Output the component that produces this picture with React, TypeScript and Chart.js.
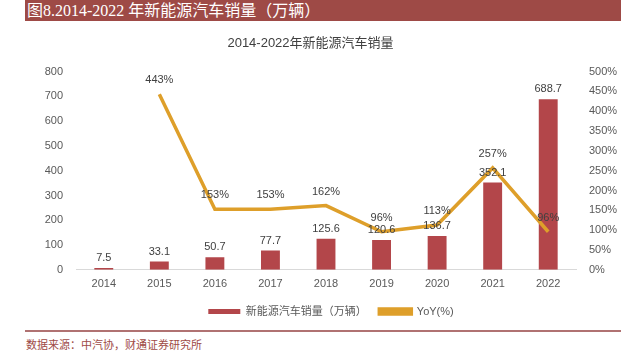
import React, { useEffect, useRef } from "react";
import { Chart, registerables } from "chart.js";

Chart.register(...registerables);

const years = ["2014", "2015", "2016", "2017", "2018", "2019", "2020", "2021", "2022"];
const sales = [7.5, 33.1, 50.7, 77.7, 125.6, 120.6, 136.7, 352.1, 688.7];
const yoy = [null, 443, 153, 153, 162, 96, 113, 257, 96];
const leftTicks = [0, 100, 200, 300, 400, 500, 600, 700, 800];
const rightTicks = [0, 50, 100, 150, 200, 250, 300, 350, 400, 450, 500];

const BAR = "#B3464A";
const LINE = "#DE9F2A";
const TXT = "#595959";
const SANS = "'Liberation Sans', Arial, 'Noto Sans CJK SC', sans-serif";

const labelPlugin = {
  id: "valueLabels",
  afterDatasetsDraw(chart: any) {
    const ctx = chart.ctx;
    ctx.save();
    ctx.font = "11px " + SANS;
    ctx.fillStyle = "#404040";
    ctx.textAlign = "center";
    ctx.textBaseline = "alphabetic";
    const barMeta = chart.getDatasetMeta(0);
    barMeta.data.forEach((el: any, i: number) => {
      ctx.fillText(String(sales[i]), el.x, el.y - 7);
    });
    const lineMeta = chart.getDatasetMeta(1);
    lineMeta.data.forEach((el: any, i: number) => {
      const v = yoy[i];
      if (v == null) return;
      ctx.fillText(v + "%", el.x, el.y - 11);
    });
    ctx.restore();
  },
};

const legendShift = {
  id: "legendShift",
  afterLayout(chart: any) {
    const l = chart.legend;
    if (l) {
      l.left += 5;
      l.right += 5;
    }
  },
};

export default function App() {
  const ref = useRef<HTMLCanvasElement>(null);
  useEffect(() => {
    if (!ref.current) return;
    const chart = new Chart(ref.current, {
      type: "bar",
      data: {
        labels: years,
        datasets: [
          {
            type: "bar",
            label: "新能源汽车销量（万辆）\u3000",
            data: sales,
            backgroundColor: BAR,
            borderColor: BAR,
            yAxisID: "y",
            barPercentage: 0.34,
            categoryPercentage: 1,
            order: 2,
          },
          {
            type: "line",
            label: "YoY(%)",
            data: yoy as any,
            borderColor: LINE,
            backgroundColor: LINE,
            borderWidth: 3.5,
            pointRadius: 0,
            tension: 0,
            yAxisID: "y1",
            order: 1,
          } as any,
        ],
      },
      options: {
        animation: false,
        responsive: false,
        maintainAspectRatio: false,
        layout: { padding: { left: 0, right: 0, top: 0, bottom: 0 } },
        plugins: {
          title: {
            display: true,
            text: "2014-2022年新能源汽车销量",
            color: "#404040",
            font: { size: 13, family: SANS, weight: "normal" },
            padding: { top: 14, bottom: 20 },
          },
          legend: {
            display: true,
            position: "bottom",
            fullSize: false,
            labels: {
              boxWidth: 32,
              boxHeight: 5,
              color: TXT,
              padding: 7,
              font: { size: 11, family: SANS },
              sort: (a: any, b: any) => a.datasetIndex - b.datasetIndex,
            },
          },
          tooltip: { enabled: false },
        },
        scales: {
          x: {
            grid: { display: false, drawTicks: false },
            border: { display: true, color: "#D9D9D9" },
            ticks: { color: TXT, font: { size: 11, family: SANS }, padding: 8 },
          },
          y: {
            position: "left",
            min: 0,
            max: 800,
            afterBuildTicks: (axis: any) => {
              axis.ticks = leftTicks.map((v) => ({ value: v }));
            },
            afterFit: (axis: any) => {
              axis.width = 76;
            },
            grid: { display: false, drawTicks: false },
            border: { display: false },
            ticks: { color: TXT, font: { size: 11, family: SANS }, padding: 13 },
          },
          y1: {
            position: "right",
            min: 0,
            max: 500,
            afterBuildTicks: (axis: any) => {
              axis.ticks = rightTicks.map((v) => ({ value: v }));
            },
            afterFit: (axis: any) => {
              axis.width = 45;
            },
            grid: { display: false, drawTicks: false },
            border: { display: false },
            ticks: {
              color: TXT,
              font: { size: 11, family: SANS },
              padding: 13,
              callback: (v: any) => v + "%",
            },
          },
        },
      },
      plugins: [labelPlugin, legendShift],
    });
    return () => chart.destroy();
  }, []);

  return (
    <div style={{ position: "fixed", left: 0, top: 0, width: 621, height: 356, background: "#fff", overflow: "hidden" }}>
      <div
        style={{
          position: "absolute",
          left: 25,
          top: 0,
          width: 596,
          height: 21,
          background: "#9E4A46",
          color: "#fff",
          fontFamily: "'Liberation Serif', 'Noto Sans CJK SC', serif",
          fontSize: 16,
          lineHeight: "21px",
          paddingLeft: 2,
          whiteSpace: "nowrap",
        }}
      >
        图8.2014-2022 年新能源汽车销量（万辆）
      </div>
      <canvas ref={ref} width={621} height={305} style={{ position: "absolute", left: 0, top: 22, width: 621, height: 305 }} />
      <div style={{ position: "absolute", left: 25, top: 330, width: 596, height: 1.5, background: "#B07272" }} />
      <div
        style={{
          position: "absolute",
          left: 26,
          top: 336,
          color: "#9E4A46",
          fontFamily: "'Noto Sans CJK SC', serif",
          fontSize: 11,
          whiteSpace: "nowrap",
        }}
      >
        数据来源：中汽协，财通证券研究所
      </div>
    </div>
  );
}
